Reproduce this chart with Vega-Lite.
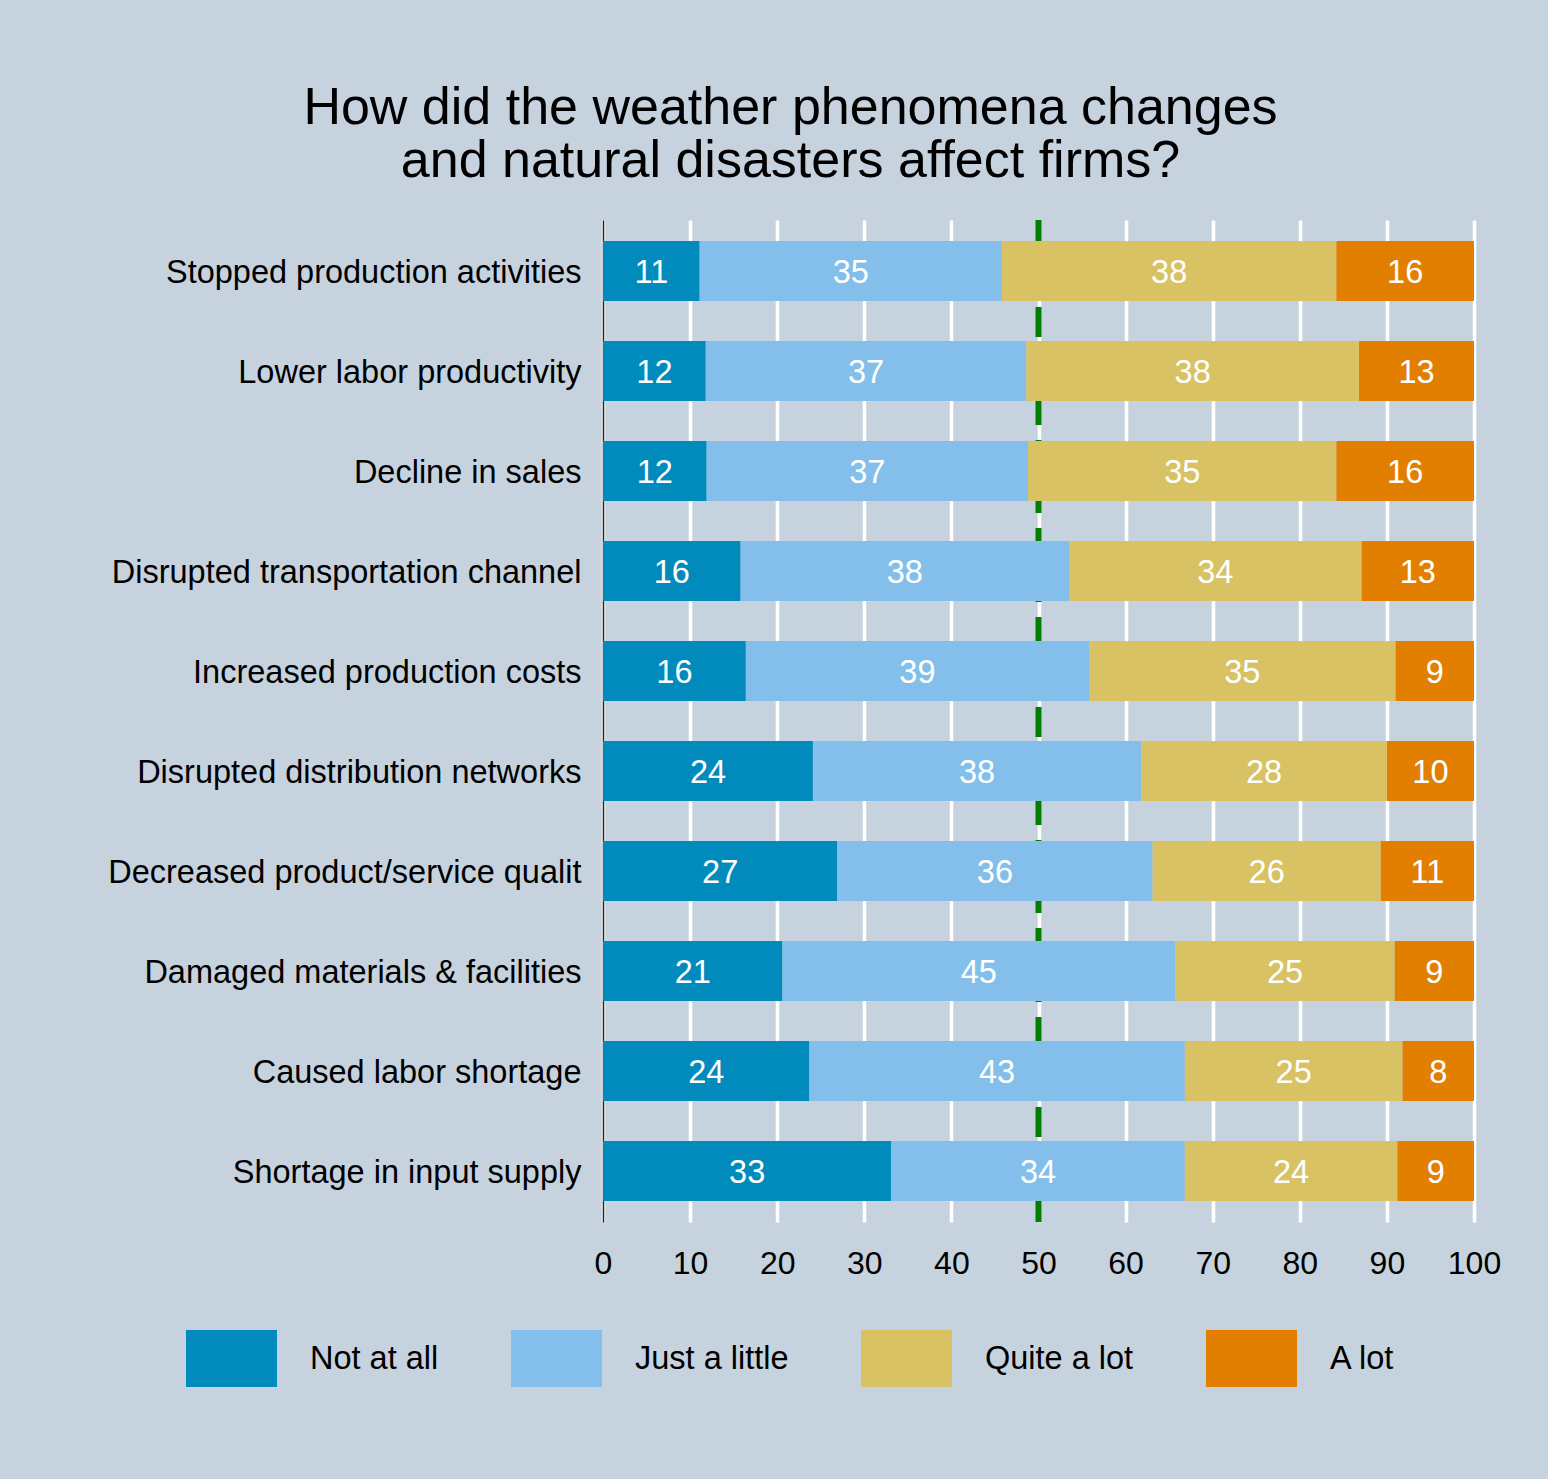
{
  "$schema": "https://vega.github.io/schema/vega-lite/v6.json",
  "autosize": {"type": "none"},
  "width": 871,
  "height": 1002,
  "padding": {"left": 603, "top": 220, "right": 74, "bottom": 257},
  "background": "#C6D3DF",
  "title": {
    "text": ["How did the weather phenomena changes", "and natural disasters affect firms?"],
    "font": "Liberation Sans",
    "fontSize": 52,
    "fontWeight": "normal",
    "color": "#000000",
    "anchor": "middle",
    "frame": "group",
    "dx": -248,
    "offset": 29,
    "lineHeight": 53
  },
  "config": {
    "font": "Liberation Sans",
    "view": {"stroke": null},
    "axisX": {
      "grid": true,
      "gridColor": "#FFFFFF",
      "gridWidth": 3.5,
      "gridOpacity": 1,
      "domain": false,
      "ticks": false,
      "tickSize": 0,
      "labelFontSize": 32,
      "labelColor": "#000000",
      "labelPadding": 26,
      "labelFlush": false,
      "labelOverlap": false,
      "labelFont": "Liberation Sans"
    },
    "axisY": {
      "grid": false,
      "domain": true,
      "domainColor": "#222222",
      "domainWidth": 1.5,
      "ticks": false,
      "tickSize": 0,
      "labelFontSize": 32.5,
      "labelColor": "#000000",
      "labelPadding": 22,
      "labelOffset": 2,
      "labelLimit": 0,
      "labelFont": "Liberation Sans"
    },
    "legend": {
      "labelFont": "Liberation Sans",
      "labelFontSize": 32.5,
      "labelColor": "#000000"
    }
  },
  "data": {
    "values": [
      {"item": "Stopped production activities", "resp": "Not at all", "k": 1, "value": 11.1},
      {"item": "Stopped production activities", "resp": "Just a little", "k": 2, "value": 34.7},
      {"item": "Stopped production activities", "resp": "Quite a lot", "k": 3, "value": 38.4},
      {"item": "Stopped production activities", "resp": "A lot", "k": 4, "value": 15.8},
      {"item": "Lower labor productivity", "resp": "Not at all", "k": 1, "value": 11.8},
      {"item": "Lower labor productivity", "resp": "Just a little", "k": 2, "value": 36.8},
      {"item": "Lower labor productivity", "resp": "Quite a lot", "k": 3, "value": 38.2},
      {"item": "Lower labor productivity", "resp": "A lot", "k": 4, "value": 13.2},
      {"item": "Decline in sales", "resp": "Not at all", "k": 1, "value": 11.9},
      {"item": "Decline in sales", "resp": "Just a little", "k": 2, "value": 36.9},
      {"item": "Decline in sales", "resp": "Quite a lot", "k": 3, "value": 35.4},
      {"item": "Decline in sales", "resp": "A lot", "k": 4, "value": 15.8},
      {"item": "Disrupted transportation channel", "resp": "Not at all", "k": 1, "value": 15.8},
      {"item": "Disrupted transportation channel", "resp": "Just a little", "k": 2, "value": 37.7},
      {"item": "Disrupted transportation channel", "resp": "Quite a lot", "k": 3, "value": 33.6},
      {"item": "Disrupted transportation channel", "resp": "A lot", "k": 4, "value": 12.9},
      {"item": "Increased production costs", "resp": "Not at all", "k": 1, "value": 16.4},
      {"item": "Increased production costs", "resp": "Just a little", "k": 2, "value": 39.4},
      {"item": "Increased production costs", "resp": "Quite a lot", "k": 3, "value": 35.2},
      {"item": "Increased production costs", "resp": "A lot", "k": 4, "value": 9.0},
      {"item": "Disrupted distribution networks", "resp": "Not at all", "k": 1, "value": 24.1},
      {"item": "Disrupted distribution networks", "resp": "Just a little", "k": 2, "value": 37.7},
      {"item": "Disrupted distribution networks", "resp": "Quite a lot", "k": 3, "value": 28.2},
      {"item": "Disrupted distribution networks", "resp": "A lot", "k": 4, "value": 10.0},
      {"item": "Decreased product/service qualit", "resp": "Not at all", "k": 1, "value": 26.9},
      {"item": "Decreased product/service qualit", "resp": "Just a little", "k": 2, "value": 36.2},
      {"item": "Decreased product/service qualit", "resp": "Quite a lot", "k": 3, "value": 26.2},
      {"item": "Decreased product/service qualit", "resp": "A lot", "k": 4, "value": 10.7},
      {"item": "Damaged materials & facilities", "resp": "Not at all", "k": 1, "value": 20.6},
      {"item": "Damaged materials & facilities", "resp": "Just a little", "k": 2, "value": 45.1},
      {"item": "Damaged materials & facilities", "resp": "Quite a lot", "k": 3, "value": 25.2},
      {"item": "Damaged materials & facilities", "resp": "A lot", "k": 4, "value": 9.1},
      {"item": "Caused labor shortage", "resp": "Not at all", "k": 1, "value": 23.7},
      {"item": "Caused labor shortage", "resp": "Just a little", "k": 2, "value": 43.1},
      {"item": "Caused labor shortage", "resp": "Quite a lot", "k": 3, "value": 25.0},
      {"item": "Caused labor shortage", "resp": "A lot", "k": 4, "value": 8.2},
      {"item": "Shortage in input supply", "resp": "Not at all", "k": 1, "value": 33.1},
      {"item": "Shortage in input supply", "resp": "Just a little", "k": 2, "value": 33.7},
      {"item": "Shortage in input supply", "resp": "Quite a lot", "k": 3, "value": 24.4},
      {"item": "Shortage in input supply", "resp": "A lot", "k": 4, "value": 8.8}
    ]
  },
  "layer": [
    {
      "data": {"values": [{"ref": 50}]},
      "mark": {
        "type": "rule",
        "color": "#008000",
        "strokeWidth": 6,
        "strokeDash": [30, 15, 73, 15, 73, 15, 74, 15, 75, 15],
        "strokeDashOffset": 313
      },
      "encoding": {
        "x": {"field": "ref", "type": "quantitative", "title": null, "scale": {"domain": [0, 100], "nice": false}, "axis": {"values": [0, 10, 20, 30, 40, 50, 60, 70, 80, 90, 100], "title": null}}
      }
    },
    {
      "mark": {"type": "bar", "strokeWidth": 0},
      "encoding": {
        "y": {
          "field": "item",
          "type": "nominal",
          "title": null,
          "sort": null,
          "scale": {
            "domain": ["Stopped production activities", "Lower labor productivity", "Decline in sales", "Disrupted transportation channel", "Increased production costs", "Disrupted distribution networks", "Decreased product/service qualit", "Damaged materials & facilities", "Caused labor shortage", "Shortage in input supply"],
            "paddingInner": 0.4,
            "paddingOuter": 0.21
          },
          "axis": {"title": null}
        },
        "x": {"field": "value", "type": "quantitative", "stack": "zero", "title": null},
        "order": {"field": "k", "type": "quantitative"},
        "color": {
          "field": "resp",
          "type": "nominal",
          "scale": {
            "domain": ["Not at all", "Just a little", "Quite a lot", "A lot"],
            "range": ["#008BBC", "#83BFEA", "#D8C264", "#E37F00"]
          },
          "legend": {
            "title": null,
            "orient": "none",
            "direction": "horizontal",
            "legendX": -417,
            "legendY": 1093,
            "padding": 0,
            "symbolType": "M-1,-0.626H1V0.626H-1Z",
            "symbolSize": 8281,
            "symbolStrokeWidth": 0,
            "symbolOpacity": 1,
            "labelOffset": 33,
            "columnPadding": 72,
            "labelFontSize": 32.5,
            "labelColor": "#000000"
          }
        }
      }
    },
    {
      "transform": [
        {"stack": "value", "groupby": ["item"], "sort": [{"field": "k", "order": "ascending"}], "as": ["x0", "x1"]},
        {"fold": ["x0", "x1"], "as": ["edge", "pos"]},
        {"aggregate": [{"op": "mean", "field": "pos", "as": "mid"}, {"op": "mean", "field": "value", "as": "v"}], "groupby": ["item", "resp"]}
      ],
      "mark": {"type": "text", "color": "#FFFFFF", "fontSize": 32.5, "align": "center", "baseline": "middle", "dy": 2, "font": "Liberation Sans"},
      "encoding": {
        "y": {"field": "item", "type": "nominal", "sort": null, "title": null},
        "x": {"field": "mid", "type": "quantitative", "title": null},
        "text": {"field": "v", "type": "quantitative", "format": ".0f"}
      }
    }
  ]
}
